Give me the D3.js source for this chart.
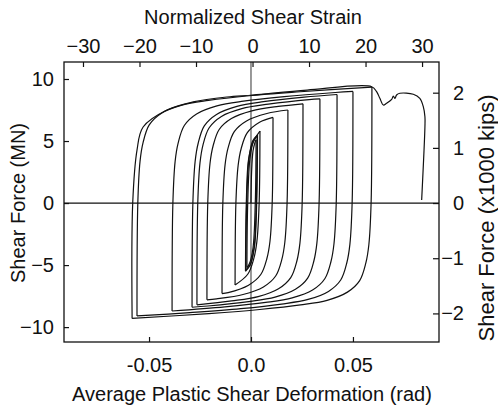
<!DOCTYPE html>
<html><head><meta charset="utf-8">
<script src="https://cdn.jsdelivr.net/npm/d3@7"></script>
<style>
html,body{margin:0;padding:0;background:#fff;}
text{font-family:"Liberation Sans",Arial,Helvetica,sans-serif;fill:#111;}
</style></head>
<body><svg id="c" width="498" height="412"></svg>
<script>
// ---- data (x: average plastic shear deformation, rad; y: shear force, MN)
const bottomTicks = [-0.05, 0.0, 0.05];
const bottomTickLabels = ["-0.05", "0.0", "0.05"];
const topTicks = [-30, -20, -10, 0, 10, 20, 30];
const leftTicks = [10, 5, 0, -5, -10];
const rightTicks = [2, 1, 0, -1, -2];
const kipsPerMN = 1 / 4.448;

// rising branches (reversal from negative peak to positive peak)
const rising = [
 [[0,0],[0.0003,2.5],[0.001,4.2],[0.002,4.9],[0.0025,5.1]],
 [[-0.0020,-5.2],[-0.0016,0],[-0.0005,3.6],[0.0013,5.0],[0.0030,5.4]],
 [[-0.0025,-5.4],[-0.0021,0],[-0.0010,3.6],[0.0008,5.0],[0.0032,5.5]],
 [[-0.0027,-5.5],[-0.0023,0],[-0.0012,3.5],[0.0010,4.9],[0.0044,5.8]],
 [[-0.0078,-6.6],[-0.0074,0],[-0.0063,3.04],[-0.0048,4.40],[-0.0018,5.67],[0.0042,6.51],[0.0108,6.9]],
 [[-0.0142,-7.3],[-0.0138,0],[-0.0127,3.10],[-0.0112,4.47],[-0.0082,5.76],[-0.0022,6.62],[0.0078,7.22],[0.0181,7.5]],
 [[-0.0216,-7.8],[-0.0212,0],[-0.0201,3.19],[-0.0186,4.60],[-0.0156,5.93],[-0.0096,6.81],[0.0004,7.43],[0.0134,7.79],[0.0255,8.0]],
 [[-0.0265,-8.2],[-0.0261,0],[-0.025,3.26],[-0.0235,4.71],[-0.0205,6.07],[-0.0145,6.98],[-0.0045,7.61],[0.0085,7.97],[0.0285,8.34],[0.0338,8.4]],
 [[-0.0289,-8.4],[-0.0285,0],[-0.0274,3.34],[-0.0259,4.82],[-0.0229,6.22],[-0.0169,7.14],[-0.0069,7.79],[0.0061,8.17],[0.0261,8.54],[0.0422,8.75]],
 [[-0.0387,-8.7],[-0.0383,0],[-0.0372,3.36],[-0.0357,4.85],[-0.0327,6.25],[-0.0267,7.18],[-0.0167,7.83],[-0.0037,8.21],[0.0163,8.58],[0.0413,8.91],[0.05,9.0]],
 [[-0.0559,-9.1],[-0.0555,0],[-0.0544,3.38],[-0.0529,4.89],[-0.0499,6.30],[-0.0439,7.24],[-0.0339,7.89],[-0.0209,8.27],[-0.0009,8.65],[0.0241,8.97],[0.0593,9.35]]
];
// falling branches (reversal from positive peak to negative peak)
const falling = [
 [[0.0025,5.1],[0.0021,0],[0.0010,-3.6],[-0.0008,-4.9],[-0.0020,-5.2]],
 [[0.0030,5.4],[0.0026,0],[0.0015,-3.6],[-0.0005,-5.0],[-0.0025,-5.4]],
 [[0.0032,5.5],[0.0028,0],[0.0017,-3.5],[-0.0004,-5.0],[-0.0027,-5.5]],
 [[0.0044,5.8],[0.004,0],[0.0029,-3.09],[0.0014,-4.46],[-0.0016,-5.74],[-0.0078,-6.6]],
 [[0.0108,6.9],[0.0104,0],[0.0093,-3.10],[0.0078,-4.47],[0.0048,-5.76],[-0.0012,-6.62],[-0.0112,-7.22],[-0.0142,-7.3]],
 [[0.0181,7.5],[0.0177,0],[0.0166,-3.16],[0.0151,-4.56],[0.0121,-5.88],[0.0061,-6.76],[-0.0039,-7.37],[-0.0169,-7.72],[-0.0216,-7.8]],
 [[0.0255,8.0],[0.0251,0],[0.024,-3.23],[0.0225,-4.67],[0.0195,-6.01],[0.0135,-6.91],[0.0035,-7.54],[-0.0095,-7.89],[-0.0265,-8.2]],
 [[0.0338,8.4],[0.0334,0],[0.0323,-3.25],[0.0308,-4.69],[0.0278,-6.05],[0.0218,-6.95],[0.0118,-7.58],[-0.0012,-7.94],[-0.0212,-8.30],[-0.0289,-8.4]],
 [[0.0422,8.75],[0.0418,0],[0.0407,-3.28],[0.0392,-4.73],[0.0362,-6.10],[0.0302,-7.01],[0.0202,-7.64],[0.0072,-8.01],[-0.0128,-8.37],[-0.0387,-8.7]],
 [[0.05,9.0],[0.0496,0],[0.0485,-3.33],[0.047,-4.81],[0.044,-6.2],[0.038,-7.12],[0.028,-7.77],[0.015,-8.14],[-0.005,-8.51],[-0.03,-8.83],[-0.0559,-9.1]],
 [[0.0593,9.35],[0.0589,0],[0.0578,-3.36],[0.0563,-4.85],[0.0533,-6.25],[0.0473,-7.18],[0.0373,-7.84],[0.0243,-8.21],[0.0043,-8.58],[-0.0207,-8.91],[-0.0583,-9.3]]
];
// last excursion with strength degradation
const finalBranch = [[-0.0583,-9.3],[-0.0580,0],[-0.0559,4.27],[-0.0529,6.13],[-0.0412,7.5],[-0.0284,8.15],[-0.0118,8.55],[0.001,8.71],[0.0275,9.11],[0.0592,9.38],[0.0616,8.98],[0.0632,8.44],[0.0649,7.90],[0.0665,8.04],[0.069,8.36],[0.0698,8.63],[0.0706,8.44],[0.0714,8.71],[0.073,8.85],[0.0796,8.77],[0.0828,8.44],[0.0845,7.77],[0.0853,6.96],[0.0853,6.15],[0.0837,0.24]];

// ---- layout
const L = 64, R = 439, T = 62, B = 342;
const svg = d3.select("#c");
const x = d3.scaleLinear().domain([-0.0917, 0.0922]).range([L, R]);
const y = d3.scaleLinear().domain([-11.2, 11.37]).range([B, T]);
const xTop = d3.scaleLinear().domain([-33.36, 33.0]).range([L, R]);
const yRight = d3.scaleLinear().domain([-11.2 * kipsPerMN, 11.37 * kipsPerMN]).range([B, T]);

const g = svg.append("g");
g.append("line").attr("x1", x(0)).attr("x2", x(0)).attr("y1", T).attr("y2", B).attr("stroke", "#333").attr("stroke-width", 1);
g.append("line").attr("x1", L).attr("x2", R).attr("y1", y(0)).attr("y2", y(0)).attr("stroke", "#111").attr("stroke-width", 1.2);

const line = d3.line().x(d => x(d[0])).y(d => y(d[1])).curve(d3.curveCatmullRom.alpha(0.5));
const branches = [];
rising.forEach((r, i) => { branches.push(r); branches.push(falling[i]); });
branches.push(finalBranch);
g.selectAll("path.b").data(branches).enter().append("path").attr("class", "b")
  .attr("d", line).attr("fill", "none").attr("stroke", "#111").attr("stroke-width", 1.2)
  .attr("stroke-linejoin", "round");

function styleAxis(sel) {
  sel.select(".domain").remove();
  sel.selectAll(".tick line").attr("stroke", "#111").attr("stroke-width", 1.2);
  sel.selectAll(".tick text").style("font-size", "20px").attr("fill", "#111");
}
const axB = svg.append("g").attr("transform", `translate(0,${B})`)
  .call(d3.axisBottom(x).tickValues(bottomTicks).tickFormat((d, i) => bottomTickLabels[i]).tickSizeInner(-5).tickPadding(15.5));
styleAxis(axB);
const axT = svg.append("g").attr("transform", `translate(0,${T})`)
  .call(d3.axisTop(xTop).tickValues(topTicks).tickFormat(d3.format("d")).tickSizeInner(-5).tickPadding(9));
styleAxis(axT);
const axL = svg.append("g").attr("transform", `translate(${L},0)`)
  .call(d3.axisLeft(y).tickValues(leftTicks).tickFormat(d3.format("d")).tickSizeInner(-5).tickPadding(10));
styleAxis(axL);
const axR = svg.append("g").attr("transform", `translate(${R},0)`)
  .call(d3.axisRight(yRight).tickValues(rightTicks).tickFormat(d3.format("d")).tickSizeInner(-6).tickPadding(12));
styleAxis(axR);
axR.selectAll(".tick text").attr("text-anchor", "end").attr("x", 25);

svg.append("rect").attr("x", L).attr("y", T).attr("width", R - L).attr("height", B - T)
  .attr("fill", "none").attr("stroke", "#111").attr("stroke-width", 1.3);

svg.append("text").attr("x", 253).attr("y", 23.5).attr("text-anchor", "middle").style("font-size", "20px").text("Normalized Shear Strain");
svg.append("text").attr("x", 252).attr("y", 401).attr("text-anchor", "middle").style("font-size", "20px").text("Average Plastic Shear Deformation (rad)");
svg.append("text").attr("transform", "translate(24.5,203) rotate(-90)").attr("text-anchor", "middle").style("font-size", "20px").text("Shear Force (MN)");
svg.append("text").attr("transform", "translate(494,218) rotate(-90)").attr("text-anchor", "middle").style("font-size", "22px").text("Shear Force (x1000 kips)");
</script></body></html>
